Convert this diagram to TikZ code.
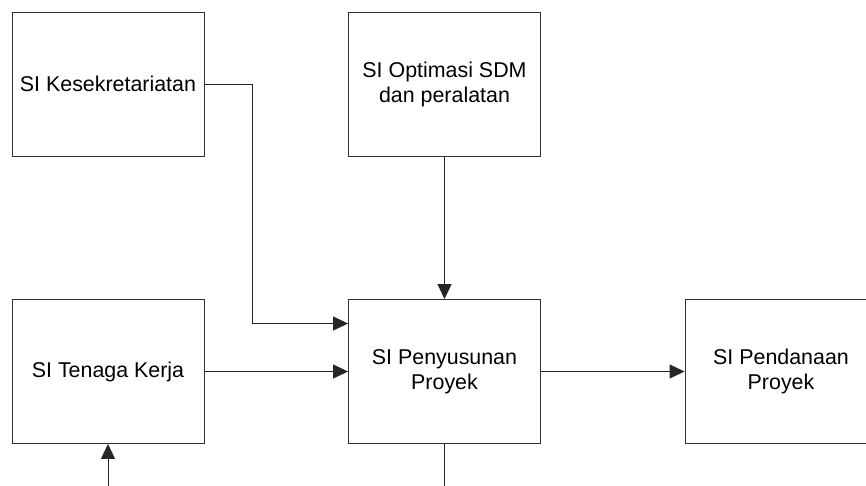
\documentclass[tikz,border=0pt]{standalone}
\usepackage{fontspec}
\setmainfont{Liberation Sans}
\usetikzlibrary{arrows.meta,calc}
\begin{document}
\begin{tikzpicture}[x=1pt,y=-1pt,
  sysbox/.style={draw=black!80, line width=0.9pt, rectangle,
    minimum width=192pt, minimum height=144pt, inner sep=0pt,
    align=center, font=\fontsize{21.4}{25}\selectfont},
  link/.style={draw=black!85, line width=0.9pt},
  arr/.style={link, -{Triangle[length=15pt,width=14pt]}}]
\useasboundingbox (0,0) rectangle (866,486);
\clip (0,0) rectangle (866,486);

\node[sysbox] (kes)  at (108,84)    {SI Kesekretariatan};
\node[sysbox] (opt)  at (444.5,84)  {SI Optimasi SDM\\dan peralatan};
\node[sysbox] (ten)  at (108,371.5) {SI Tenaga Kerja};
\node[sysbox] (pen)  at (444.5,371.5) {SI Penyusunan\\Proyek};
\node[sysbox] (pend) at (781,371.5) {SI Pendanaan\\Proyek};

\coordinate (bend) at (252,84);
\coordinate (kin)  at ($(pen.west)+(0,-48)$);
\coordinate (tin)  at (108,486);
\coordinate (pout) at (444.5,486);

\draw[arr] (kes.east) -- (bend) |- (kin);
\draw[arr] (opt.south) -- (pen.north);
\draw[arr] (ten.east) -- (pen.west);
\draw[arr] (pen.east) -- (pend.west);
\draw[arr] (tin) -- (ten.south);
\draw[link] (pen.south) -- (pout);
\end{tikzpicture}
\end{document}
